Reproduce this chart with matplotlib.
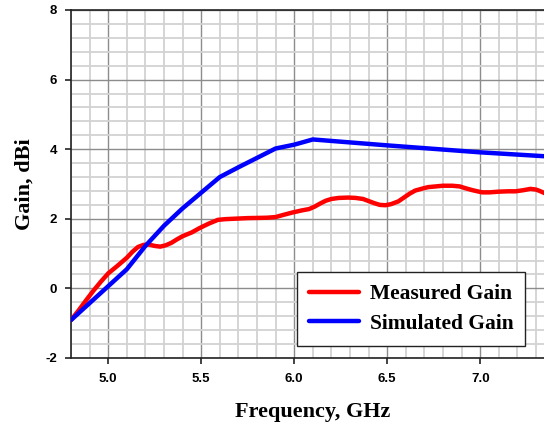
import numpy as np
import matplotlib.pyplot as plt
from matplotlib.ticker import MultipleLocator

plt.rcParams['axes.unicode_minus'] = False

# measured gain, dBi
freq_meas = [4.80, 4.84, 4.88, 4.92, 4.96, 5.00, 5.05, 5.10, 5.13, 5.16, 5.19,
             5.22, 5.25, 5.28, 5.31, 5.34, 5.37, 5.40, 5.45, 5.49, 5.54, 5.59,
             5.63, 5.67, 5.75, 5.85, 5.90, 5.94, 5.99, 6.04, 6.08, 6.11, 6.14,
             6.17, 6.20, 6.24, 6.29, 6.33, 6.37, 6.40, 6.43, 6.46, 6.49, 6.52,
             6.56, 6.59, 6.62, 6.65, 6.69, 6.72, 6.76, 6.80, 6.85, 6.89, 6.92,
             6.96, 7.01, 7.05, 7.10, 7.15, 7.19, 7.23, 7.27, 7.30, 7.32, 7.345,
             7.40]
gain_meas = [-0.91, -0.64, -0.35, -0.07, 0.19, 0.43, 0.65, 0.88, 1.05, 1.19,
             1.25, 1.26, 1.22, 1.20, 1.24, 1.31, 1.41, 1.50, 1.61, 1.73, 1.86,
             1.97, 1.99, 2.00, 2.02, 2.03, 2.05, 2.11, 2.18, 2.24, 2.28, 2.35,
             2.44, 2.52, 2.57, 2.60, 2.61, 2.60, 2.57, 2.51, 2.45, 2.40, 2.39,
             2.42, 2.50, 2.61, 2.72, 2.81, 2.87, 2.91, 2.93, 2.95, 2.95, 2.93,
             2.88, 2.82, 2.76, 2.76, 2.78, 2.79, 2.79, 2.82, 2.86, 2.84, 2.80,
             2.74, 2.70]

# simulated gain, dBi
freq_sim = [4.80, 5.10, 5.20, 5.30, 5.40, 5.50, 5.60, 5.70, 5.80, 5.90, 6.00,
            6.10, 6.50, 7.00, 7.40]
gain_sim = [-0.91, 0.55, 1.22, 1.80, 2.30, 2.75, 3.20, 3.48, 3.75, 4.02, 4.13,
            4.28, 4.11, 3.91, 3.78]

fig = plt.figure(figsize=(5.44, 4.25), dpi=100)
# plot area runs a little past the right edge of the canvas
ax = fig.add_axes([71 / 544, 67 / 425, 483.6 / 544, (358 - 10) / 425])

ax.plot(freq_meas, gain_meas, color='#ff0000', lw=3.2, label='Measured Gain',
        solid_capstyle='round', solid_joinstyle='round', zorder=3)
ax.plot(freq_sim, gain_sim, color='#0000ff', lw=3.2, label='Simulated Gain',
        solid_capstyle='round', solid_joinstyle='round', zorder=3)

ax.set_xlim(4.8, 7.4)
ax.set_ylim(-2, 8)
ax.xaxis.set_major_locator(MultipleLocator(0.5))
ax.xaxis.set_minor_locator(MultipleLocator(0.1))
ax.yaxis.set_major_locator(MultipleLocator(2))
ax.yaxis.set_minor_locator(MultipleLocator(0.4))
ax.set_xticks([5.0, 5.5, 6.0, 6.5, 7.0])

ax.grid(which='minor', color='#d2d2d2', lw=1.3)
ax.grid(which='major', color='#8c8c8c', lw=1.0)
ax.set_axisbelow(True)

ax.spines['right'].set_visible(False)
for s in ['top', 'left', 'bottom']:
    ax.spines[s].set_color('#222222')
    ax.spines[s].set_linewidth(1.2)

ax.tick_params(which='major', direction='out', length=4, width=1.2, color='#222222')
ax.tick_params(which='minor', length=0)
ax.tick_params(axis='x', pad=7)
ax.tick_params(axis='y', pad=6)
for lab in ax.get_xticklabels() + ax.get_yticklabels():
    lab.set_fontfamily('Liberation Sans')
    lab.set_fontweight('bold')
    lab.set_fontsize(9.5)

ax.set_xlabel('Frequency, GHz', fontfamily='Liberation Serif', fontweight='bold',
              fontsize=16, labelpad=12)
ax.set_ylabel('Gain, dBi', fontfamily='Liberation Serif', fontweight='bold',
              fontsize=16, labelpad=8)

leg = ax.legend(loc='lower right', bbox_to_anchor=(0.939, 0.035), fancybox=False,
                framealpha=1, edgecolor='#222222', handlelength=2.3,
                prop={'family': 'Liberation Serif', 'weight': 'bold', 'size': 15.5},
                borderpad=0.55, labelspacing=0.45, handletextpad=0.5,
                borderaxespad=0)
leg.get_frame().set_linewidth(1.0)

fig.savefig('out.png', dpi=100)
